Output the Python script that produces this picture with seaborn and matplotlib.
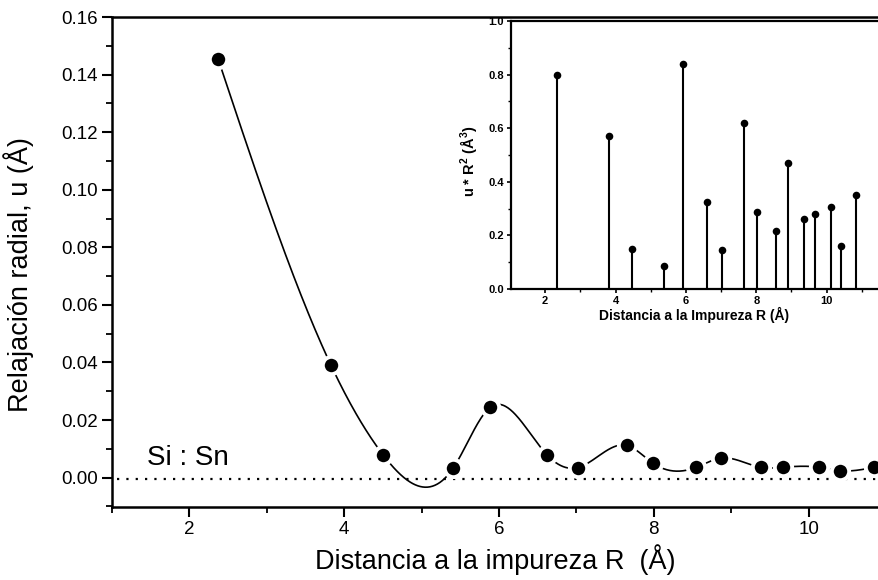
import numpy as np
import pandas as pd
import seaborn as sns
import matplotlib.pyplot as plt
from matplotlib.ticker import MultipleLocator

# main panel: radial relaxation u vs distance R
R_main = [2.37, 3.83, 4.50, 5.41, 5.89, 6.62, 7.02, 7.65, 7.99, 8.55, 8.87, 9.38, 9.67, 10.13, 10.40, 10.85]
u_main = [0.1455, 0.039, 0.008, 0.0034, 0.0245, 0.0079, 0.0035, 0.0112, 0.0050, 0.0036, 0.0068, 0.0036, 0.0036, 0.0036, 0.0024, 0.0036]

# inset: u * R^2 stems
R_inset = [2.35, 3.82, 4.46, 5.39, 5.91, 6.61, 7.02, 7.65, 8.01, 8.56, 8.89, 9.37, 9.67, 10.13, 10.40, 10.84]
uR2_inset = [0.80, 0.571, 0.149, 0.086, 0.840, 0.326, 0.146, 0.618, 0.287, 0.217, 0.471, 0.260, 0.280, 0.305, 0.160, 0.350]


def natural_spline(x, y, xs):
    # smooth connecting line through the points (like the original plotting program)
    x = np.asarray(x, float)
    y = np.asarray(y, float)
    n = len(x)
    h = np.diff(x)
    A = np.zeros((n, n))
    b = np.zeros(n)
    A[0, 0] = A[-1, -1] = 1
    for i in range(1, n - 1):
        A[i, i - 1] = h[i - 1]
        A[i, i] = 2 * (h[i - 1] + h[i])
        A[i, i + 1] = h[i]
        b[i] = 6 * ((y[i + 1] - y[i]) / h[i] - (y[i] - y[i - 1]) / h[i - 1])
    M = np.linalg.solve(A, b)
    idx = np.clip(np.searchsorted(x, xs) - 1, 0, n - 2)
    x0, x1 = x[idx], x[idx + 1]
    hh = x1 - x0
    t0, t1 = x1 - xs, xs - x0
    return ((M[idx] * t0 ** 3 + M[idx + 1] * t1 ** 3) / (6 * hh)
            + (y[idx] / hh - M[idx] * hh / 6) * t0
            + (y[idx + 1] / hh - M[idx + 1] * hh / 6) * t1)


sns.set_style("ticks")
plt.rcParams['font.family'] = ['Liberation Sans', 'DejaVu Sans']
plt.rcParams['mathtext.fontset'] = 'custom'
plt.rcParams['mathtext.bf'] = 'Liberation Sans:bold'
for k in ['text.color', 'axes.labelcolor', 'xtick.color', 'ytick.color', 'axes.edgecolor']:
    plt.rcParams[k] = 'black'

fig = plt.figure(figsize=(8.79, 5.80), dpi=100)
ax = fig.add_axes([112 / 879, 1 - 507 / 580, 767 / 879, (507 - 17) / 580])

df = pd.DataFrame({'R': R_main, 'u': u_main})
xs = np.linspace(R_main[0], R_main[-1], 800)
curve = pd.DataFrame({'R': xs, 'u': natural_spline(R_main, u_main, xs)})

sns.lineplot(x='R', y='u', data=curve, color='black', linewidth=1.2, ax=ax, zorder=2)
ax.axhline(-0.0005, xmin=0.007, color='black', linewidth=1.6, linestyle=(0, (1.0, 3.2)), zorder=1)
sns.scatterplot(x='R', y='u', data=df, color='black', s=12.5 ** 2, edgecolor='white',
                linewidth=2.8, ax=ax, zorder=3, clip_on=False)

ax.text(1.45, 0.0044, 'Si : Sn', fontsize=20, ha='left', va='baseline')

ax.set_xlim(1.0, 1.0 + 767 / 77.4)
ax.set_ylim(-0.0102, 0.1600)
ax.xaxis.set_major_locator(MultipleLocator(2))
ax.xaxis.set_minor_locator(MultipleLocator(1))
ax.yaxis.set_major_locator(MultipleLocator(0.02))
ax.yaxis.set_minor_locator(MultipleLocator(0.01))
ax.yaxis.set_major_formatter(plt.FuncFormatter(lambda v, p: f'{v:.2f}'))
ax.tick_params(which='major', direction='out', length=7, width=1.5, labelsize=13.5, pad=3)
ax.tick_params(which='minor', direction='out', length=4, width=1.3)
ax.set_xlabel('Distancia a la impureza R  (Å)', fontsize=19.5)
ax.set_ylabel('Relajación radial, u (Å)', fontsize=19.5)
ax.yaxis.set_label_coords(-0.102, 0.475)
ax.xaxis.set_label_coords(0.5, -0.075)
for s in ['left', 'bottom', 'top']:
    ax.spines[s].set_linewidth(1.8)
ax.spines['right'].set_visible(False)

# inset
axi = fig.add_axes([511 / 879, 1 - 289 / 580, 367 / 879, (289 - 21) / 580])
axi.set_facecolor('white')
ins = pd.DataFrame({'R': R_inset, 'v': uR2_inset})
axi.vlines(ins['R'], 0, ins['v'], color='black', linewidth=1.5)
sns.scatterplot(x='R', y='v', data=ins, color='black', s=30, edgecolor='black', linewidth=0, ax=axi, zorder=3)
axi.set_xlim(1.03, 11.46)
axi.set_ylim(0, 1.0)
axi.xaxis.set_major_locator(MultipleLocator(2))
axi.xaxis.set_minor_locator(MultipleLocator(1))
axi.yaxis.set_major_locator(MultipleLocator(0.2))
axi.yaxis.set_minor_locator(MultipleLocator(0.1))
axi.yaxis.set_major_formatter(plt.FuncFormatter(lambda v, p: f'{v:.1f}'))
axi.tick_params(which='major', direction='out', length=3, width=1.2, labelsize=8, pad=2)
axi.tick_params(which='minor', direction='out', length=2, width=1.0)
for lab in axi.get_xticklabels() + axi.get_yticklabels():
    lab.set_fontweight('bold')
axi.set_xlabel('Distancia a la Impureza R (Å)', fontsize=10, fontweight='bold', labelpad=1)
axi.set_ylabel(r'u * R$^{\mathbf{2}}$ (Å$^{\mathbf{3}}$)', fontsize=10.5, fontweight='bold')
axi.yaxis.set_label_coords(-0.085, 0.475)
for s in ['left', 'bottom', 'top']:
    axi.spines[s].set_linewidth(1.6)
axi.spines['right'].set_visible(False)

fig.savefig('out.png', dpi=100)
